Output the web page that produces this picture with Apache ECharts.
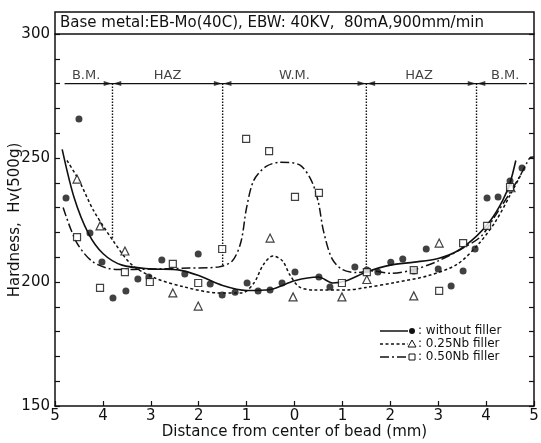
<!DOCTYPE html>
<html>
<head>
<meta charset="utf-8">
<script src="https://cdn.jsdelivr.net/npm/echarts@6/dist/echarts.min.js"></script>
<style>
  html, body { margin: 0; padding: 0; background: #fff; }
  #chart { width: 541px; height: 443px; }
</style>
</head>
<body>
<div id="chart"></div>
<script>
// 测点 (x: 距焊缝中心的距离, 左侧为负)
var noFillerPts = [[-4.77, 233.9], [-4.5, 265.7], [-4.27, 219.8], [-4.02, 208.1], [-3.79, 193.5], [-3.52, 196.4],
  [-3.27, 201.2], [-3.04, 202.0], [-2.77, 208.9], [-2.29, 203.2], [-2.01, 211.3], [-1.76, 199.2], [-1.51, 194.8],
  [-1.24, 195.9], [-0.99, 199.6], [-0.76, 196.4], [-0.51, 196.8], [-0.26, 199.6], [0.01, 204.0], [0.51, 202],
  [0.74, 198], [1.26, 206], [1.51, 204.8], [1.74, 204], [2.01, 208], [2.26, 209.3], [2.49, 204.4], [2.75, 213.3],
  [3.0, 205.2], [3.27, 198.4], [3.52, 204.4], [3.77, 213.3], [4.02, 233.9], [4.25, 234.3], [4.5, 240.7], [4.75, 246]];
var nb025Pts = [[-4.54, 241.5], [-4.06, 222.6], [-3.54, 212.5], [-2.54, 195.6], [-2.01, 190.3], [-0.51, 217.7],
  [-0.03, 194.0], [0.99, 194.0], [1.51, 201], [2.49, 194.4], [3.02, 215.7], [4.52, 238]];
var nb050Pts = [[-4.54, 218.1], [-4.06, 197.6], [-3.54, 204.0], [-3.02, 200], [-2.54, 207.3], [-2.01, 199.6],
  [-1.51, 213.3], [-1.01, 257.7], [-0.53, 252.8], [0.01, 234.3], [0.51, 235.9], [0.99, 199.6], [1.51, 204],
  [2.49, 204.8], [3.02, 196.4], [3.52, 215.7], [4.02, 222.6], [4.5, 238.3]];

// 拟合曲线
var noFillerCurve = [[-4.85, 253.5], [-4.6, 234], [-4.3, 219.5], [-4.0, 211.5], [-3.6, 206.8], [-3.0, 205.3],
  [-2.4, 204.8], [-2.0, 202.6], [-1.5, 198.6], [-1.0, 196.6], [-0.5, 197], [0, 200.5], [0.5, 202], [0.8, 199.6],
  [1.1, 200.6], [1.5, 204], [2.0, 206.8], [2.5, 208], [3.0, 209.5], [3.4, 212.5], [3.8, 218.5], [4.1, 225],
  [4.35, 233], [4.5, 240], [4.62, 249]];
var nb025Curve = [[-4.75, 249], [-4.5, 241], [-4.2, 229], [-3.8, 217], [-3.4, 207], [-2.9, 201.5], [-2.3, 198],
  [-1.6, 195.6], [-1.1, 195.6], [-0.85, 199.5], [-0.65, 207], [-0.45, 210.5], [-0.25, 208.5], [-0.1, 203],
  [0.1, 198], [0.4, 196.8], [1.1, 196.8], [1.5, 197.8], [2.1, 199.8], [2.8, 202.6], [3.4, 207.2], [3.85, 215.5],
  [4.2, 224.5], [4.5, 235], [4.72, 243]];
var nb050Curve = [[-4.83, 230], [-4.55, 216], [-4.2, 208], [-3.7, 205], [-3.0, 205.2], [-2.2, 205.6], [-1.6, 206],
  [-1.3, 208.5], [-1.12, 216], [-1.0, 230], [-0.85, 241], [-0.6, 246.5], [-0.3, 248.3], [0.1, 247.3], [0.35, 241],
  [0.5, 232], [0.6, 221], [0.78, 209.5], [1.0, 205], [1.3, 203.8], [1.6, 204.5], [2.0, 203.5], [2.5, 205],
  [3.0, 208.5], [3.5, 213.5], [3.9, 218.5], [4.2, 227], [4.5, 236], [4.7, 242.5], [4.85, 248], [4.93, 250.3],
  [5.0, 250.4]];

// 区域划分
var regionNames = ['B.M.', 'HAZ', 'W.M.', 'HAZ', 'B.M.'];
var regionX = [-4.35, -2.65, 0, 2.6, 4.4];
var boundaryX = [-3.8, -1.5, 1.5, 3.8];
var boundaryEnd = [217, 206, 206, 220];
var regionLineY = 280;
var regionLineX = [-4.8, 4.85];

var seriesNames = ['without filler', '0.25Nb filler', '0.50Nb filler'];
var titleText = 'Base metal:EB-Mo(40C), EBW: 40KV,  80mA,900mm/min';

var FONT = 'DejaVu Sans';
var INK = '#111';

var myChart = echarts.init(document.getElementById('chart'));

var series = [];

// 曲线
var curveStyles = [
  { data: noFillerCurve, type: 'solid', width: 1.6 },
  { data: nb025Curve, type: [3, 2.5], width: 1.5 },
  { data: nb050Curve, type: [9, 3, 2, 3], width: 1.5 }
];
curveStyles.forEach(function (c, i) {
  series.push({
    name: seriesNames[i] + ' curve',
    type: 'line',
    data: c.data,
    smooth: 0.3,
    showSymbol: false,
    silent: true,
    lineStyle: { color: INK, width: c.width, type: c.type },
    z: 3
  });
});

// 测点
series.push({
  name: seriesNames[0], type: 'scatter', data: noFillerPts, symbol: 'circle', symbolSize: 7,
  itemStyle: { color: INK }, z: 5
});
series.push({
  name: seriesNames[1], type: 'scatter', data: nb025Pts, symbol: 'triangle', symbolSize: 8,
  itemStyle: { color: '#fff', borderColor: INK, borderWidth: 1.2 }, z: 5
});
series.push({
  name: seriesNames[2], type: 'scatter', data: nb050Pts, symbol: 'rect', symbolSize: 7,
  itemStyle: { color: '#fff', borderColor: INK, borderWidth: 1.2 }, z: 5
});

// 区域横线
series.push({
  type: 'line', silent: true, showSymbol: false,
  data: [[regionLineX[0], regionLineY], [regionLineX[1], regionLineY]],
  lineStyle: { color: INK, width: 1.4 }, z: 2
});

// 分界虚线
boundaryX.forEach(function (b, i) {
  series.push({
    type: 'line', silent: true, showSymbol: false,
    data: [[b, regionLineY], [b, boundaryEnd[i]]],
    lineStyle: { color: INK, width: 1.4, type: [1.5, 1.5] }, z: 2
  });
});

// 箭头
var arrowData = [];
boundaryX.forEach(function (b) {
  arrowData.push({ value: [b - 0.1, regionLineY], symbolRotate: -90 });
  arrowData.push({ value: [b + 0.1, regionLineY], symbolRotate: 90 });
});
series.push({
  type: 'scatter', silent: true, data: arrowData, symbol: 'triangle', symbolSize: [5, 8],
  itemStyle: { color: INK }, z: 4
});

// 区域名称
series.push({
  type: 'scatter', silent: true, symbolSize: 0,
  data: regionNames.map(function (n, i) { return { name: n, value: [regionX[i], regionLineY] }; }),
  label: {
    show: true, position: 'top', distance: 1, formatter: '{b}',
    color: INK, fontFamily: FONT, fontSize: 13
  }
});

// 图例
var lgX = 380, lgY = [331, 344, 357];
var lgDash = ['solid', [3, 2.5], [9, 3, 2, 3]];
var legendGraphics = [];
seriesNames.forEach(function (n, i) {
  legendGraphics.push({
    type: 'line', shape: { x1: lgX, y1: lgY[i], x2: lgX + 28, y2: lgY[i] },
    style: { stroke: INK, lineWidth: 1.5, lineDash: lgDash[i] === 'solid' ? null : lgDash[i] }
  });
  var mk;
  if (i === 0) {
    mk = { type: 'circle', shape: { cx: lgX + 32, cy: lgY[i], r: 3 }, style: { fill: INK } };
  } else if (i === 1) {
    mk = { type: 'polygon', shape: { points: [[lgX + 32, lgY[i] - 4], [lgX + 28, lgY[i] + 3], [lgX + 36, lgY[i] + 3]] },
      style: { fill: '#fff', stroke: INK, lineWidth: 1 } };
  } else {
    mk = { type: 'rect', shape: { x: lgX + 29, y: lgY[i] - 3, width: 6, height: 6 },
      style: { fill: '#fff', stroke: INK, lineWidth: 1 } };
  }
  legendGraphics.push(mk);
  legendGraphics.push({
    type: 'text', x: lgX + 38, y: lgY[i],
    style: { text: ': ' + n, fill: INK, font: '12px "' + FONT + '"', verticalAlign: 'middle' }
  });
});

var option = {
  animation: false,
  backgroundColor: '#fff',
  grid: { left: 55, right: 7, top: 34, bottom: 37, containLabel: false, outerBoundsMode: 'none' },
  xAxis: {
    type: 'value', min: -5, max: 5, interval: 1,
    name: 'Distance from center of bead (mm)',
    nameLocation: 'middle', nameGap: 19, nameMoveOverlap: false,
    nameTextStyle: { color: INK, fontFamily: FONT, fontSize: 15 },
    axisLine: { onZero: false, lineStyle: { color: INK, width: 1.5 } },
    axisTick: { inside: true, length: 5, lineStyle: { color: INK, width: 1.2 } },
    axisLabel: {
      color: INK, fontFamily: FONT, fontSize: 15, margin: 3,
      formatter: function (v) { return Math.abs(v); }
    },
    splitLine: { show: false }
  },
  yAxis: [{
    type: 'value', min: 150, max: 300, interval: 10, position: 'left',
    name: 'Hardness,  Hv(500g)',
    nameLocation: 'middle', nameGap: 32, nameRotate: 90, nameMoveOverlap: false,
    nameTextStyle: { color: INK, fontFamily: FONT, fontSize: 15 },
    axisLine: { onZero: false, lineStyle: { color: INK, width: 1.5 } },
    axisTick: { inside: true, length: 5, lineStyle: { color: INK, width: 1.2 } },
    axisLabel: {
      color: INK, fontFamily: FONT, fontSize: 15, margin: 5,
      formatter: function (v) { return v % 50 === 0 ? v : ''; }
    },
    splitLine: { show: false }
  }, {
    type: 'value', min: 150, max: 300, interval: 10, position: 'right',
    axisLine: { show: true, onZero: false, lineStyle: { color: INK, width: 1.5 } },
    axisTick: { inside: true, length: 5, lineStyle: { color: INK, width: 1.2 } },
    axisLabel: { show: false },
    splitLine: { show: false }
  }],
  graphic: [{
    type: 'rect', shape: { x: 55, y: 12, width: 479, height: 22 },
    style: { fill: 'none', stroke: INK, lineWidth: 1.5 }
  }, {
    type: 'text', x: 60, y: 23,
    style: { text: titleText, fill: INK, font: '15px "' + FONT + '"', verticalAlign: 'middle' }
  }].concat(legendGraphics),
  series: series
};

myChart.setOption(option);
window.addEventListener('resize', function () {
  myChart.resize();
});
</script>
</body>
</html>
